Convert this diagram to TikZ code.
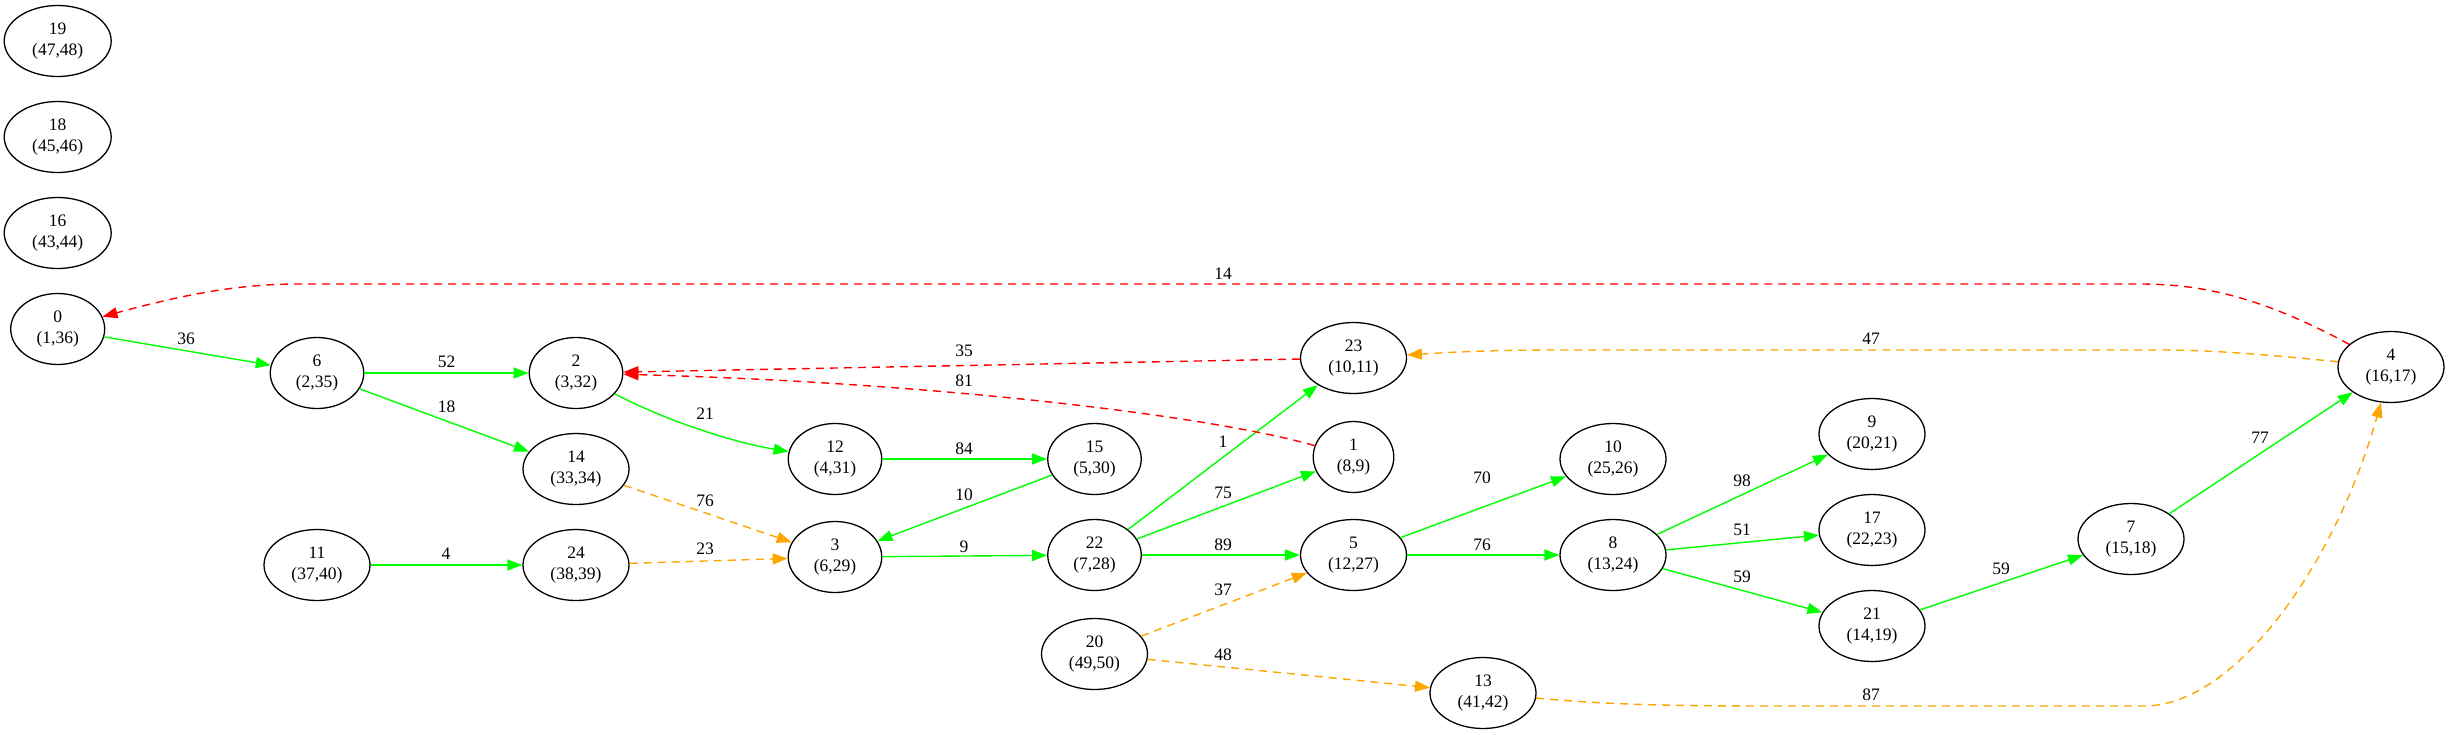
\documentclass[tikz,border=0pt]{standalone}
\usepackage{fontspec}
\setmainfont{Liberation Serif}
\usetikzlibrary{shapes.geometric,arrows.meta}
\definecolor{gvgreen}{RGB}{0,255,0}
\definecolor{gvorange}{RGB}{255,165,0}
\definecolor{gvred}{RGB}{255,0,0}
\begin{document}
\begin{tikzpicture}[x=1pt,y=1pt,
  every node/.style={font=\fontsize{17.5}{20.5}\selectfont},
  vtx/.style={draw=black, line width=1.3pt, ellipse, inner sep=0pt, minimum height=71pt, minimum width=106pt, align=center},
  narrow/.style={minimum width=93.5pt},
  lbl/.style={inner sep=0pt},
  tipg/.style={-{Triangle[length=15pt,width=11pt]}},
  ge/.style={draw=gvgreen, line width=1.4pt, tipg},
  oe/.style={draw=gvorange, line width=1.4pt, dash pattern=on 8pt off 6pt, tipg},
  re/.style={draw=gvred, line width=1.4pt, dash pattern=on 8pt off 6pt, tipg},
]
\useasboundingbox (0,0) rectangle (2449,-734);

% nodes
\node[vtx, minimum width=107pt] (n19) at (57.7,-41) {19\\(47,48)};
\node[vtx, minimum width=107pt] (n18) at (57.7,-137) {18\\(45,46)};
\node[vtx, minimum width=107pt] (n16) at (57.7,-233) {16\\(43,44)};
\node[vtx, minimum width=94pt] (n0) at (57.7,-329) {0\\(1,36)};
\node[vtx, narrow] (n6) at (317,-373) {6\\(2,35)};
\node[vtx, narrow] (n2) at (576,-373) {2\\(3,32)};
\node[vtx] (n14) at (576,-469) {14\\(33,34)};
\node[vtx] (n11) at (317,-565) {11\\(37,40)};
\node[vtx] (n24) at (576,-565) {24\\(38,39)};
\node[vtx, narrow] (n12) at (835,-459) {12\\(4,31)};
\node[vtx, narrow] (n3) at (835,-557) {3\\(6,29)};
\node[vtx, narrow] (n15) at (1094.5,-459) {15\\(5,30)};
\node[vtx, narrow] (n22) at (1094.5,-555) {22\\(7,28)};
\node[vtx] (n20) at (1094.5,-654) {20\\(49,50)};
\node[vtx] (n23) at (1353.5,-358) {23\\(10,11)};
\node[vtx, minimum width=80.6pt] (n1) at (1353.5,-457) {1\\(8,9)};
\node[vtx] (n5) at (1353.5,-555) {5\\(12,27)};
\node[vtx] (n13) at (1483,-693) {13\\(41,42)};
\node[vtx] (n10) at (1613,-459) {10\\(25,26)};
\node[vtx] (n8) at (1613,-555) {8\\(13,24)};
\node[vtx] (n9) at (1872,-434) {9\\(20,21)};
\node[vtx] (n17) at (1872,-530) {17\\(22,23)};
\node[vtx] (n21) at (1872,-626) {21\\(14,19)};
\node[vtx] (n7) at (2131,-539) {7\\(15,18)};
\node[vtx] (n4) at (2391,-367) {4\\(16,17)};

% green edges
\draw[ge] (n0) -- (n6);
\draw[ge] (n6) -- (n2);
\draw[ge] (n6) -- (n14);
\draw[ge] (n2) .. controls (660,-418) and (730,-442) .. (n12);
\draw[ge] (n12) -- (n15);
\draw[ge] (n15) -- (n3);
\draw[ge] (n3) -- (n22);
\draw[ge] (n11) -- (n24);
\draw[ge] (n22) -- (n23);
\draw[ge] (n22) -- (n1);
\draw[ge] (n22) -- (n5);
\draw[ge] (n5) -- (n10);
\draw[ge] (n5) -- (n8);
\draw[ge] (n8) -- (n9);
\draw[ge] (n8) -- (n17);
\draw[ge] (n8) -- (n21);
\draw[ge] (n21) -- (n7);
\draw[ge] (n7) -- (n4);

% orange edges
\draw[oe] (n14) -- (n3);
\draw[oe] (n24) -- (n3);
\draw[oe] (n20) -- (n5);
\draw[oe] (n20) -- (n13);
\draw[oe] (n13) .. controls (1620,-706) and (1700,-706) .. (1800,-706) -- (2144,-706) .. controls (2235,-706) and (2335,-565) .. (n4);
\draw[oe] (n4) .. controls (2260,-354) and (2210,-350) .. (2160,-350) -- (1560,-350) .. controls (1480,-350) and (1440,-353) .. (n23);

% red edges
\draw[re] (n4) .. controls (2260,-296) and (2200,-284) .. (2140,-284) -- (300,-284) .. controls (250,-284) and (200,-290) .. (n0);
\draw[re] (n23) -- (n2);
\draw[re] (n1) .. controls (1220,-418) and (950,-383) .. (n2);

% edge labels
\node[lbl] (l0) at (186,-339) {36};
\node[lbl] (l1) at (446.7,-362) {52};
\node[lbl] (l2) at (446.7,-407) {18};
\node[lbl] (l3) at (446,-554) {4};
\node[lbl] (l4) at (705,-414) {21};
\node[lbl] (l5) at (705,-501) {76};
\node[lbl] (l6) at (705,-549) {23};
\node[lbl] (l7) at (964,-351) {35};
\node[lbl] (l8) at (964,-381) {81};
\node[lbl] (l9) at (964,-449) {84};
\node[lbl] (l10) at (964,-495) {10};
\node[lbl] (l11) at (964,-547) {9};
\node[lbl] (l12) at (1223,-274) {14};
\node[lbl] (l13) at (1223,-442) {1};
\node[lbl] (l14) at (1223,-493) {75};
\node[lbl] (l15) at (1223,-545) {89};
\node[lbl] (l16) at (1223,-590) {37};
\node[lbl] (l17) at (1223,-655) {48};
\node[lbl] (l18) at (1482,-478) {70};
\node[lbl] (l19) at (1482,-545) {76};
\node[lbl] (l20) at (1742,-481) {98};
\node[lbl] (l21) at (1742,-530) {51};
\node[lbl] (l22) at (1742,-577) {59};
\node[lbl] (l23) at (2001,-569) {59};
\node[lbl] (l24) at (2260,-438) {77};
\node[lbl] (l25) at (1871,-695) {87};
\node[lbl] (l26) at (1871,-339) {47};
\end{tikzpicture}
\end{document}
